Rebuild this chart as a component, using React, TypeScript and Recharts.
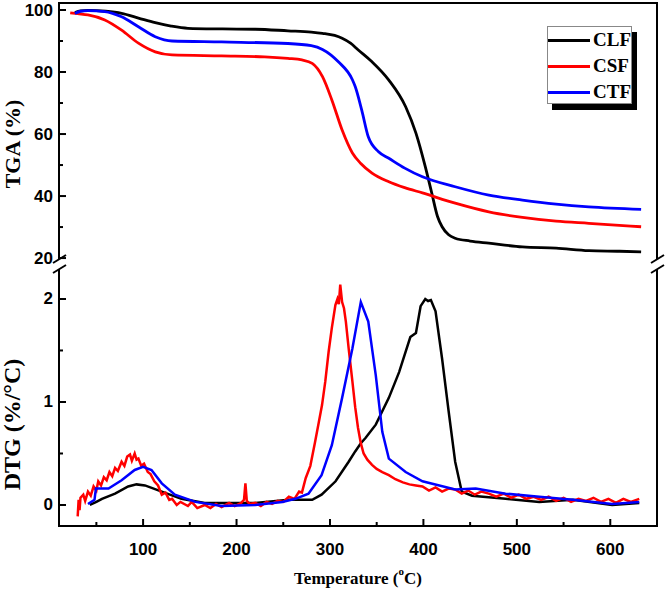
import React from "react";
import { LineChart, Line, XAxis, YAxis, Legend } from "recharts";

// TGA (%) vs temperature (°C)
const clfTgaTemp = [27, 33, 41, 60, 77, 95, 113, 130, 148, 185, 220, 255, 280, 292, 305, 313, 322, 330, 345, 363, 381, 392, 402, 409, 415, 420, 427, 434, 450, 470, 506, 542, 577, 610, 633];
const clfTga = [99.2, 99.7, 99.9, 99.6, 98.9, 97.4, 95.9, 94.8, 94.1, 93.9, 93.8, 93.3, 92.9, 92.5, 91.8, 90.9, 89.3, 87.2, 83.3, 77.4, 68.8, 60.3, 49.5, 40.9, 33.5, 30.1, 27.5, 26.4, 25.5, 24.8, 23.6, 23.2, 22.4, 22.2, 22.0];

const csfTgaTemp = [22, 30, 41, 59, 77, 95, 113, 131, 184, 230, 255, 270, 281, 292, 302, 313, 324, 333, 345, 363, 380, 399, 434, 470, 506, 542, 577, 633];
const csfTga = [99.1, 98.8, 98.4, 96.8, 93.5, 89.3, 86.5, 85.5, 85.2, 84.9, 84.4, 83.9, 82.8, 78.5, 71.0, 61.3, 53.9, 50.5, 47.4, 44.6, 42.7, 41.0, 37.7, 34.9, 33.1, 31.9, 31.2, 30.1];

const ctfTgaTemp = [27, 33, 41, 59, 77, 95, 113, 131, 184, 255, 280, 292, 309, 324, 327, 334, 341, 352, 363, 380, 399, 434, 470, 506, 542, 577, 633];
const ctfTga = [98.9, 99.6, 99.8, 99.5, 97.8, 94.6, 91.4, 90.0, 89.7, 89.2, 88.5, 87.3, 83.3, 77.5, 75.3, 67.7, 59.1, 54.3, 52.2, 49.0, 46.2, 43.0, 40.3, 38.7, 37.4, 36.5, 35.7];

// DTG (%/°C) vs temperature (°C)
const clfDtgTemp = [43, 50, 56, 70, 84, 93, 102, 120, 141, 166, 220, 256, 281, 291, 306, 320, 327, 333, 338, 349, 363, 374, 386, 392, 397, 402, 405, 408, 413, 420, 427, 434, 441, 452, 488, 524, 560, 602, 631];
const clfDtg = [0, 0.03, 0.06, 0.11, 0.18, 0.2, 0.19, 0.13, 0.06, 0.02, 0.02, 0.05, 0.05, 0.1, 0.23, 0.42, 0.52, 0.6, 0.65, 0.78, 1.04, 1.29, 1.63, 1.67, 1.93, 2.0, 1.98, 1.99, 1.88, 1.42, 0.91, 0.42, 0.13, 0.09, 0.06, 0.03, 0.05, 0.0, 0.02];

const csfDtgTemp = [30, 31, 32, 33, 36, 38, 41, 44, 47, 50, 52, 55, 58, 61, 64, 67, 70, 73, 77, 80, 83, 86, 88, 91, 93, 95, 98, 101, 105, 108, 112, 116, 120, 124, 128, 131, 136, 140, 148, 152, 158, 166, 172, 178, 184, 192, 198, 205, 208, 209.5, 211, 214, 220, 226, 232, 238, 244, 250, 256, 262, 267, 270, 274, 279, 284, 288, 291.5, 295, 298.6, 302, 305.8, 308, 309.5, 311, 313, 315, 317, 320, 324, 327, 330, 333, 336, 340, 345, 350, 356, 363, 370, 378, 385, 392, 399, 406, 413, 420, 427, 434, 441, 448, 455, 462, 470, 478, 486, 494, 502, 510, 518, 526, 534, 542, 550, 558, 566, 574, 582, 590, 598, 606, 614, 622, 631];
const csfDtg = [-0.11, 0.05, -0.05, 0.07, 0.1, 0.04, 0.13, 0.09, 0.18, 0.14, 0.23, 0.19, 0.27, 0.24, 0.32, 0.28, 0.36, 0.33, 0.42, 0.38, 0.47, 0.49, 0.43, 0.5, 0.44, 0.45, 0.38, 0.4, 0.32, 0.3, 0.23, 0.19, 0.1, 0.12, 0.05, 0.06, 0.0, 0.03, -0.01, 0.03, -0.03, 0.0, -0.03, 0.01, -0.02, 0.02, -0.01, 0.02, 0.05, 0.21, 0.04, 0.01, 0.02, -0.01, 0.03, 0.01, 0.04, 0.03, 0.08, 0.06, 0.13, 0.12, 0.26, 0.38, 0.61, 0.8, 0.97, 1.2, 1.49, 1.72, 1.94, 2.0, 1.95, 2.14, 1.97, 1.91, 1.78, 1.52, 1.2, 0.95, 0.75, 0.6, 0.5, 0.44, 0.39, 0.35, 0.32, 0.29, 0.25, 0.22, 0.2, 0.19, 0.18, 0.14, 0.17, 0.13, 0.16, 0.15, 0.11, 0.14, 0.1, 0.13, 0.11, 0.08, 0.11, 0.07, 0.1, 0.06, 0.08, 0.05, 0.08, 0.04, 0.07, 0.03, 0.06, 0.04, 0.07, 0.03, 0.06, 0.02, 0.06, 0.03, 0.06];

const ctfDtgTemp = [41, 48, 49.5, 63, 77, 91, 100, 109, 120, 134, 156, 184, 220, 249, 263, 277, 291, 302, 313, 324, 333, 341, 349, 356, 363, 381, 399, 434, 456, 488, 524, 560, 602, 631];
const ctfDtg = [0.01, 0.05, 0.16, 0.16, 0.24, 0.34, 0.37, 0.34, 0.21, 0.1, 0.03, -0.01, 0.0, 0.03, 0.06, 0.11, 0.29, 0.58, 1.04, 1.52, 1.97, 1.78, 1.26, 0.71, 0.45, 0.32, 0.23, 0.15, 0.16, 0.11, 0.08, 0.05, 0.01, 0.03];

const seriesNames = ["CLF", "CSF", "CTF"];
const seriesColors = ["#000000", "#ff0000", "#0000ff"];

const xTicks = [50, 100, 150, 200, 250, 300, 350, 400, 450, 500, 550, 600];
const xMajor = [100, 200, 300, 400, 500, 600];
const tgaTicks = [20, 30, 40, 50, 60, 70, 80, 90, 100];
const tgaMajor = [20, 40, 60, 80, 100];
const dtgTicks = [0, 0.5, 1, 1.5, 2];
const dtgMajor = [0, 1, 2];

const zip = (ts: number[], vs: number[]) => ts.map((t, i) => ({ t, v: vs[i] }));

const tgaSeries = [zip(clfTgaTemp, clfTga), zip(csfTgaTemp, csfTga), zip(ctfTgaTemp, ctfTga)];
const dtgSeries = [zip(clfDtgTemp, clfDtg), zip(csfDtgTemp, csfDtg), zip(ctfDtgTemp, ctfDtg)];

const X_DOMAIN = [10, 650];
const TGA_DOMAIN = [19.7, 102.26];
const DTG_DOMAIN = [-0.204, 2.291];

// plot frame geometry (px)
const LEFT = 59;
const RIGHT = 657;
const TOP_Y0 = 3;
const TOP_Y1 = 259;
const BOT_Y0 = 269;
const BOT_Y1 = 526;

const sans = "'Liberation Sans', Arial, sans-serif";
const serif = "'Liberation Serif', 'Times New Roman', serif";
const axisLineStyle = { stroke: "#000", strokeWidth: 2 };

const lin = (d: number[], r0: number, r1: number) => (v: number) => r0 + ((v - d[0]) / (d[1] - d[0])) * (r1 - r0);
const xPx = lin(X_DOMAIN, LEFT, RIGHT);
const tgaPx = lin(TGA_DOMAIN, TOP_Y1, TOP_Y0);
const dtgPx = lin(DTG_DOMAIN, BOT_Y1, BOT_Y0);

const makeYTick = (majors: number[]) => (props: any) => {
  const { x, y, payload } = props;
  if (!majors.includes(payload.value)) return <g />;
  return (
    <text x={x - 6} y={y} textAnchor="end" dominantBaseline="central" fontFamily={sans} fontWeight="bold" fontSize={17} fill="#000">
      {payload.value}
    </text>
  );
};

const XTick = (props: any) => {
  const { x, y, payload } = props;
  if (!xMajor.includes(payload.value)) return <g />;
  return (
    <text x={x} y={y + 23} textAnchor="middle" dominantBaseline="central" fontFamily={sans} fontWeight="bold" fontSize={17} fill="#000">
      {payload.value}
    </text>
  );
};

const yTitle = (text: string, dy: number, size: number) => (props: any) => {
  const { viewBox } = props;
  const cx = 12;
  const cy = viewBox.y + viewBox.height / 2 + dy;
  return (
    <text x={cx} y={cy} transform={`rotate(-90 ${cx} ${cy})`} textAnchor="middle" dominantBaseline="central" fontFamily={serif} fontWeight="bold" fontSize={size} fill="#000">
      {text}
    </text>
  );
};

const xTitle = (props: any) => {
  const { viewBox } = props;
  return (
    <text x={viewBox.x + viewBox.width / 2} y={viewBox.y + 52} textAnchor="middle" dominantBaseline="central" fontFamily={serif} fontWeight="bold" fontSize={17} fill="#000">
      <tspan>Temperature (</tspan>
      <tspan dy={-7} fontSize={11}>o</tspan>
      <tspan dy={7}>C)</tspan>
    </text>
  );
};

const LegendBox = (props: any) => {
  const payload = props.payload || [];
  return (
    <div style={{ position: "relative", width: 85, height: 78 }}>
      <div style={{ position: "absolute", left: 5, top: 6, width: 85, height: 78, background: "#000" }} />
      <div style={{ position: "absolute", left: 0, top: 0, width: 85, height: 78, boxSizing: "border-box", border: "1px solid #888", background: "#fff" }}>
        {payload.map((p: any, i: number) => (
          <div key={p.value} style={{ position: "absolute", left: 0, top: 2 + i * 26, height: 22, display: "flex", alignItems: "center" }}>
            <span style={{ display: "inline-block", width: 42, borderTop: `3px solid ${p.color}` }} />
            <span style={{ marginLeft: 3, fontFamily: serif, fontWeight: "bold", fontSize: 19, color: "#000", lineHeight: "22px" }}>{p.value}</span>
          </div>
        ))}
      </div>
    </div>
  );
};

// frame, inward tick marks and axis-break symbols
function Frame() {
  return (
    <svg width={666} height={592} style={{ position: "absolute", left: 0, top: 0, pointerEvents: "none" }}>
      <g stroke="#000" strokeWidth={2} fill="none">
        <path d={`M${LEFT},${TOP_Y1} L${LEFT},${TOP_Y0} L${RIGHT},${TOP_Y0} L${RIGHT},${TOP_Y1}`} />
        <path d={`M${LEFT},${BOT_Y0} L${LEFT},${BOT_Y1} L${RIGHT},${BOT_Y1} L${RIGHT},${BOT_Y0}`} />
        {tgaTicks.map((v) => (
          <line key={`g${v}`} x1={LEFT} x2={LEFT + (tgaMajor.includes(v) ? 7 : 4)} y1={tgaPx(v)} y2={tgaPx(v)} />
        ))}
        {dtgTicks.map((v) => (
          <line key={`d${v}`} x1={LEFT} x2={LEFT + (dtgMajor.includes(v) ? 7 : 4)} y1={dtgPx(v)} y2={dtgPx(v)} />
        ))}
        {xTicks.map((v) => (
          <line key={`x${v}`} x1={xPx(v)} x2={xPx(v)} y1={BOT_Y1} y2={BOT_Y1 - (xMajor.includes(v) ? 7 : 4)} />
        ))}
        <line x1={LEFT - 6} y1={TOP_Y1 + 4} x2={LEFT + 7} y2={TOP_Y1 - 4} />
        <line x1={LEFT - 6} y1={BOT_Y0 + 4} x2={LEFT + 7} y2={BOT_Y0 - 4} />
        <line x1={RIGHT - 6} y1={TOP_Y1 + 4} x2={RIGHT + 7} y2={TOP_Y1 - 4} />
        <line x1={RIGHT - 6} y1={BOT_Y0 + 4} x2={RIGHT + 7} y2={BOT_Y0 - 4} />
      </g>
    </svg>
  );
}

export default function App() {
  return (
    <div style={{ position: "absolute", left: 0, top: 0, width: 666, height: 592, background: "#fff" }}>
      <div style={{ position: "absolute", left: 0, top: 0 }}>
        <LineChart width={666} height={270} margin={{ top: TOP_Y0, right: 666 - RIGHT, bottom: 270 - TOP_Y1, left: 0 }}>
          <XAxis dataKey="t" type="number" domain={X_DOMAIN} allowDataOverflow hide />
          <YAxis type="number" domain={TGA_DOMAIN} allowDataOverflow ticks={tgaTicks} interval={0} width={LEFT} tickSize={0} tickMargin={0} tickLine={false} tick={makeYTick(tgaMajor)} axisLine={axisLineStyle} label={yTitle("TGA (%)", 13, 22)} />
          <Legend layout="vertical" align="center" verticalAlign="middle" content={LegendBox} wrapperStyle={{ left: 547, top: 26, width: 85, height: 78 }} />
          {tgaSeries.map((d, i) => (
            <Line key={seriesNames[i]} data={d} dataKey="v" name={seriesNames[i]} type="monotone" stroke={seriesColors[i]} strokeWidth={2.8} dot={false} isAnimationActive={false} />
          ))}
        </LineChart>
      </div>
      <div style={{ position: "absolute", left: 0, top: BOT_Y0 }}>
        <LineChart width={666} height={592 - BOT_Y0} margin={{ top: 0, right: 666 - RIGHT, bottom: 0, left: 0 }}>
          <XAxis dataKey="t" type="number" domain={X_DOMAIN} allowDataOverflow ticks={xTicks} interval={0} height={592 - BOT_Y1} tickSize={0} tickMargin={0} tickLine={false} tick={XTick} axisLine={axisLineStyle} label={xTitle} />
          <YAxis type="number" domain={DTG_DOMAIN} allowDataOverflow ticks={dtgTicks} interval={0} width={LEFT} tickSize={0} tickMargin={0} tickLine={false} tick={makeYTick(dtgMajor)} axisLine={axisLineStyle} label={yTitle("DTG (%/°C)", 27, 24)} />
          {dtgSeries.map((d, i) => (
            <Line key={seriesNames[i]} data={d} dataKey="v" name={seriesNames[i]} type="linear" stroke={seriesColors[i]} strokeWidth={2.5} dot={false} isAnimationActive={false} />
          ))}
        </LineChart>
      </div>
      <Frame />
    </div>
  );
}
